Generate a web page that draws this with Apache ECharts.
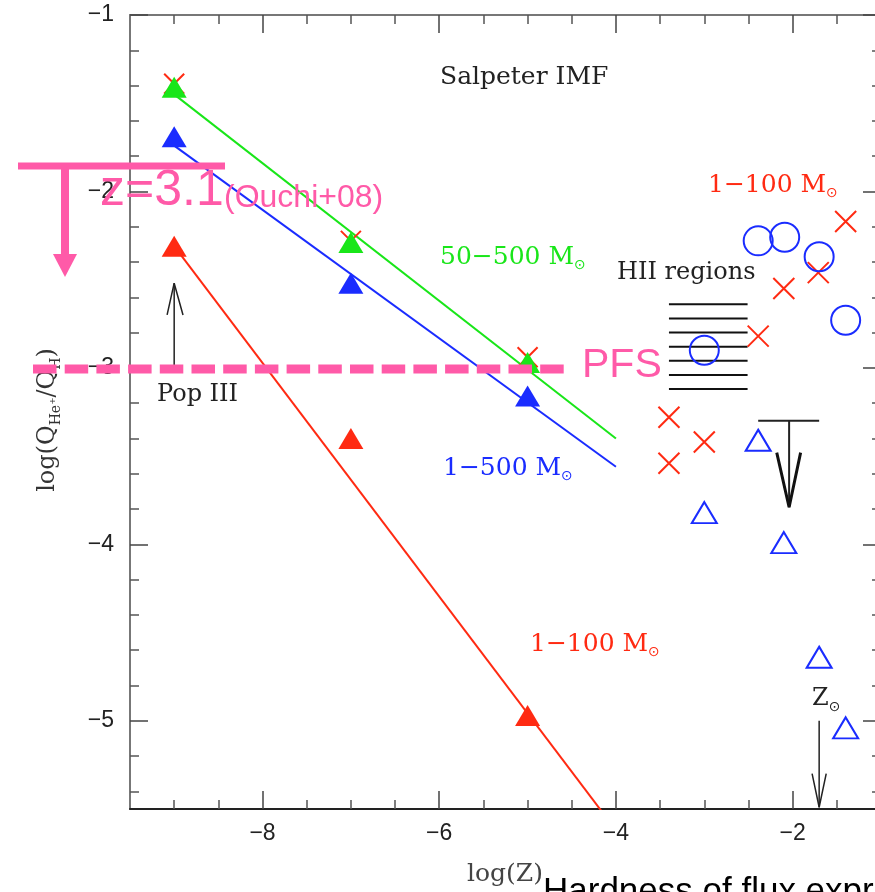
<!DOCTYPE html>
<html>
<head>
	<meta charset="utf-8" />
	<title>log(QHe+/QH) vs log(Z)</title>
	<script src="https://cdn.jsdelivr.net/npm/echarts@6/dist/echarts.min.js"></script>
	<style>
		* { margin: 0; padding: 0; }
		html, body { width: 875px; height: 892px; background: #fff; overflow: hidden; }
		/* 右端の軸は画面の外 (少しはみ出す) */
		#main { width: 881px; height: 892px; }
	</style>
</head>
<body>
	<div id="main"></div>
	<script>
		// 轴刻度
		var xMajor = [-8, -6, -4, -2];
		var xMinor = [-9, -8.5, -7.5, -7, -6.5, -5.5, -5, -4.5, -3.5, -3, -2.5, -1.5];
		var yMajor = [-5, -4, -3, -2, -1];
		var yMinor = [-5.4, -5.2, -4.8, -4.6, -4.4, -4.2, -3.8, -3.6, -3.4, -3.2,
			-2.8, -2.6, -2.4, -2.2, -1.8, -1.6, -1.4, -1.2];

		// Pop III 模型 (Salpeter IMF)
		var logZ = [-9, -7, -5];
		var popGreen = [-1.41, -2.29, -2.97];   // 50-500 Msun
		var popBlue = [-1.69, -2.52, -3.16];    // 1-500 Msun
		var popRed = [-2.31, -3.40, -4.97];     // 1-100 Msun
		var popCross = [-1.39, -2.28, -2.94];

		// 拟合直线
		var fitX = [-9, -4];
		var fitGreen = [-1.45, -3.40];
		var fitBlue = [-1.74, -3.56];
		var fitRed = [-2.31, -5.62];

		// 右侧 1-100 Msun 的点
		var crossX = [-1.40, -1.71, -2.10, -2.39, -3.40, -3.00, -3.40];
		var crossY = [-2.17, -2.46, -2.55, -2.82, -3.28, -3.42, -3.54];
		var circX = [-2.39, -2.09, -1.70, -1.40, -3.00];
		var circY = [-2.28, -2.26, -2.37, -2.73, -2.90];
		var triX = [-2.39, -3.00, -2.10, -1.70, -1.40];
		var triY = [-3.41, -3.82, -3.99, -4.64, -5.04];

		// HII regions 阴影线
		var hiiX = [-3.40, -2.51];
		var hiiY = [-2.64, -2.72, -2.80, -2.88, -2.96, -3.04, -3.12];

		// 箭头 (上限 / Pop III / Z_sun)
		var limitBar = [[-2.39, -3.30], [-1.70, -3.30]];
		var limitStem = [[-2.04, -3.30], [-2.04, -3.79]];
		var limitHead = [[-2.18, -3.48], [-2.04, -3.79], [-1.91, -3.48]];
		var popArrow = [[-9, -3.0], [-9, -2.52]];
		var popHead = [[-9.08, -2.70], [-9, -2.52], [-8.90, -2.70]];
		var sunArrow = [[-1.70, -5.0], [-1.70, -5.49]];
		var sunHead = [[-1.78, -5.30], [-1.70, -5.49], [-1.62, -5.30]];

		var GREEN = '#19e619';
		var BLUE = '#1a2cff';
		var RED = '#ff2a12';
		var PINK = '#ff5aa8';
		var serif = '"DejaVu Serif", serif';
		var sans = '"Liberation Sans", Arial, sans-serif';

		function zip(xs, ys) {
			return xs.map(function (x, i) { return [x, ys[i]]; });
		}
		function minus(v) { return String(v).replace('-', '\u2212'); }

		function lineSeries(data, color, width) {
			return {
				type: 'line', data: data, symbol: 'none', silent: true,
				lineStyle: { color: color, width: width || 2 }, z: 2
			};
		}

		var crossPath = 'path://M0,0L20,20M20,0L0,20';

		var series = [
			lineSeries(zip(fitX, fitGreen), GREEN),
			lineSeries(zip(fitX, fitBlue), BLUE),
			lineSeries(zip(fitX, fitRed), RED),
			{
				type: 'scatter', data: zip(logZ, popCross), symbol: crossPath, symbolSize: 20,
				itemStyle: { color: 'none', borderColor: RED, borderWidth: 2, opacity: 1 }, z: 3
			},
			{
				type: 'scatter', data: zip(logZ, popGreen), symbol: 'triangle', symbolSize: [25, 21],
				itemStyle: { color: GREEN, opacity: 1 }, z: 4
			},
			{
				type: 'scatter', data: zip(logZ, popBlue), symbol: 'triangle', symbolSize: [25, 21],
				itemStyle: { color: BLUE, opacity: 1 }, z: 4
			},
			{
				type: 'scatter', data: zip(logZ, popRed), symbol: 'triangle', symbolSize: [25, 21],
				itemStyle: { color: RED, opacity: 1 }, z: 4
			},
			{
				type: 'scatter', data: zip(crossX, crossY), symbol: crossPath, symbolSize: 21,
				itemStyle: { color: 'none', borderColor: RED, borderWidth: 2, opacity: 1 }, z: 4
			},
			{
				type: 'scatter', data: zip(circX, circY), symbol: 'circle', symbolSize: 29,
				itemStyle: { color: 'none', borderColor: BLUE, borderWidth: 2, opacity: 1 }, z: 4
			},
			{
				type: 'scatter', data: zip(triX, triY), symbol: 'triangle', symbolSize: [25, 21],
				itemStyle: { color: 'none', borderColor: BLUE, borderWidth: 2, opacity: 1 }, z: 4
			},
			lineSeries(limitBar, '#222', 2),
			lineSeries(limitStem, '#222', 2),
			lineSeries(limitHead, '#111', 3),
			lineSeries(popArrow, '#222', 1.5),
			lineSeries(popHead, '#222', 1.5),
			lineSeries(sunArrow, '#222', 1.5),
			lineSeries(sunHead, '#222', 1.5)
		];
		hiiY.forEach(function (y) {
			series.push(lineSeries(zip(hiiX, [y, y]), '#111', 2));
		});

		function xAxisPair(pos, showLabel) {
			var lineColor = pos === 'bottom' ? '#222' : '#777';
			return [{
				type: 'value', position: pos, min: -9.5, max: -1,
				axisLine: { onZero: false, lineStyle: { color: lineColor, width: 2 } },
				axisTick: { inside: true, length: 9, customValues: xMinor, lineStyle: { color: '#555', width: 1.5 } },
				axisLabel: {
					show: showLabel, customValues: xMajor, margin: 13,
					fontSize: 23, fontFamily: sans, color: '#222', formatter: minus
				},
				splitLine: { show: false }
			}, {
				type: 'value', position: pos, min: -9.5, max: -1,
				axisLine: { show: false, onZero: false },
				axisTick: { inside: true, length: 18, customValues: xMajor, lineStyle: { color: '#444', width: 1.5 } },
				axisLabel: { show: false },
				splitLine: { show: false }
			}];
		}
		function yAxisPair(pos, showLabel) {
			return [{
				type: 'value', position: pos, min: -5.5, max: -1,
				axisLine: { onZero: false, lineStyle: { color: '#777', width: 2 } },
				axisTick: { inside: true, length: 9, customValues: yMinor, lineStyle: { color: '#555', width: 1.5 } },
				axisLabel: {
					show: showLabel, customValues: yMajor, margin: 16,
					fontSize: 23, fontFamily: sans, color: '#222', formatter: minus
				},
				splitLine: { show: false }
			}, {
				type: 'value', position: pos, min: -5.5, max: -1,
				axisLine: { show: false, onZero: false },
				axisTick: { inside: true, length: 18, customValues: yMajor, lineStyle: { color: '#444', width: 1.5 } },
				axisLabel: { show: false },
				splitLine: { show: false }
			}];
		}

		function msun(size, color) {
			return {
				m: { fontSize: size, fontFamily: serif, fill: color, lineHeight: 30 },
				s: { fontSize: 14, fontFamily: '"DejaVu Sans", sans-serif', fill: color, lineHeight: 14, verticalAlign: 'bottom' }
			};
		}
		function label(x, y, text, color, size) {
			return {
				type: 'text', x: x, y: y, z: 50, silent: true,
				style: {
					text: text, fill: color, fontSize: size, fontFamily: serif,
					align: 'left', verticalAlign: 'middle', rich: msun(size, color)
				}
			};
		}

		var graphics = [
			label(440, 77, 'Salpeter IMF', '#222', 25),
			label(440, 257, '{m|50\u2212500 M}{s|\u2299}', GREEN, 25),
			label(443, 468, '{m|1\u2212500 M}{s|\u2299}', BLUE, 25),
			label(530, 644, '{m|1\u2212100 M}{s|\u2299}', RED, 25),
			label(708, 185, '{m|1\u2212100 M}{s|\u2299}', RED, 25),
			label(617, 273, 'HII regions', '#222', 24),
			label(157, 395, 'Pop III', '#222', 24),
			label(812, 699, '{m|Z}{s|\u2299}', '#222', 24),
			{
				type: 'text', x: 48, y: 420, rotation: Math.PI / 2, z: 50, silent: true,
				style: {
					text: '{m|log(Q}{s|He\u207A}{m|/Q}{s|H}{m|)}', align: 'center', verticalAlign: 'middle',
					rich: {
						m: { fontSize: 24, fontFamily: serif, fill: '#333', lineHeight: 30 },
						s: { fontSize: 14, fontFamily: serif, fill: '#333', lineHeight: 15, verticalAlign: 'bottom' }
					}
				}
			},
			{
				type: 'text', x: 467, y: 874, z: 50, silent: true,
				style: { text: 'log(Z)', fill: '#444', fontSize: 25, fontFamily: serif, align: 'left', verticalAlign: 'middle' }
			},
			{
				type: 'text', x: 543, y: 892, z: 60, silent: true,
				style: { text: 'Hardness of flux expressed', fill: '#000', fontSize: 35, fontFamily: sans, align: 'left', verticalAlign: 'middle' }
			},
			// ピンク の 注釈
			{
				type: 'line', z: 60, silent: true,
				shape: { x1: 33, y1: 369, x2: 570, y2: 369 },
				style: { stroke: PINK, lineWidth: 9, lineDash: [23.5, 8.2] }
			},
			{
				type: 'text', x: 582, y: 366, z: 60, silent: true,
				style: { text: 'PFS', fill: PINK, fontSize: 41, fontFamily: sans, align: 'left', verticalAlign: 'middle' }
			},
			{
				type: 'line', z: 60, silent: true,
				shape: { x1: 18, y1: 166, x2: 225, y2: 166 },
				style: { stroke: PINK, lineWidth: 7 }
			},
			{
				type: 'line', z: 60, silent: true,
				shape: { x1: 65, y1: 166, x2: 65, y2: 256 },
				style: { stroke: PINK, lineWidth: 8 }
			},
			{
				type: 'polygon', z: 60, silent: true,
				shape: { points: [[53, 254], [77, 254], [65, 277]] },
				style: { fill: PINK }
			},
			{
				type: 'text', x: 100, y: 191, z: 60, silent: true,
				style: { text: 'z=3.1', fill: PINK, fontSize: 50, fontFamily: sans, align: 'left', verticalAlign: 'middle' }
			},
			{
				type: 'text', x: 224, y: 198, z: 60, silent: true,
				style: { text: '(Ouchi+08)', fill: PINK, fontSize: 32, fontFamily: sans, align: 'left', verticalAlign: 'middle' }
			}
		];

		var chart = echarts.init(document.getElementById('main'), null, { renderer: 'canvas' });
		chart.setOption({
			animation: false,
			backgroundColor: '#fff',
			grid: { left: 130, top: 15, right: 0, bottom: 83, containLabel: false },
			xAxis: xAxisPair('bottom', true).concat(xAxisPair('top', false)),
			yAxis: yAxisPair('left', true).concat(yAxisPair('right', false)),
			series: series,
			graphic: graphics
		});
	</script>
</body>
</html>
